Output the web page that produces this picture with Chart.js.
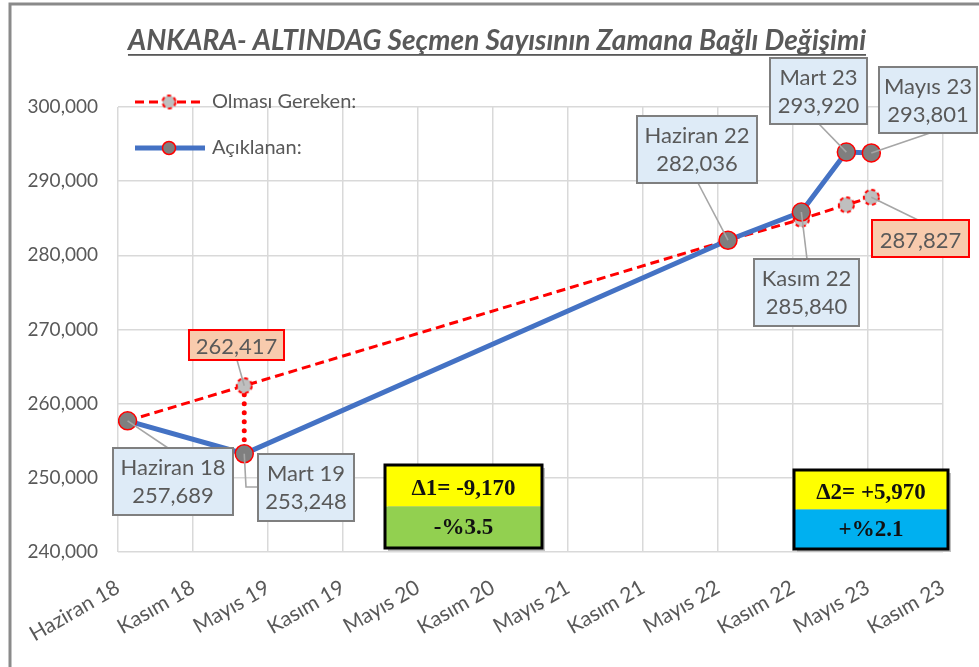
<!DOCTYPE html>
<html>
<head>
<meta charset="utf-8">
<script src="https://cdn.jsdelivr.net/npm/chart.js@4.4.1/dist/chart.umd.min.js"></script>
<style>
  html, body { margin: 0; padding: 0; background: #fff; }
  #wrap { width: 979px; height: 667px; }
</style>
</head>
<body>
<div id="wrap"><canvas id="chart" width="979" height="667"></canvas></div>
<script>
// x axis: one tick every 180 days, starting at axisStart
const axisStart = '2018-06-01';
const tickStepDays = 180;
const tickLabels = ['Haziran 18', 'Kasım 18', 'Mayıs 19', 'Kasım 19', 'Mayıs 20', 'Kasım 20',
  'Mayıs 21', 'Kasım 21', 'Mayıs 22', 'Kasım 22', 'Mayıs 23', 'Kasım 23'];

const pointNames = ['Haziran 18', 'Mart 19', 'Haziran 22', 'Kasım 22', 'Mart 23', 'Mayıs 23'];
const pointDates = ['2018-06-24', '2019-03-31', '2022-06-04', '2022-11-27', '2023-03-15', '2023-05-14'];
const announced = [257689, 253248, 282036, 285840, 293920, 293801];
const expected = [257689, 262417, 282036, 284870, 286810, 287827];

// dotted drop at Mart 19 between expected and announced
const gapDate = '2019-03-31';
const gapValues = [262417, 253248];

const deltaTitles = ['Δ1= -9,170', 'Δ2= +5,970'];
const deltaPercents = ['-%3.5', '+%2.1'];

const yMin = 240000, yMax = 300000, yStep = 10000;

const TITLE = 'ANKARA- ALTINDAG Seçmen Sayısının Zamana Bağlı Değişimi';
const GRAY_TEXT = '#595959';
const FONT = 'Lato';

function toDay(s) {
  return (Date.parse(s) - Date.parse(axisStart)) / 86400000;
}
function fmt(v) {
  return v.toLocaleString('en-US');
}

function dashedMarker(r) {
  const size = Math.ceil(r * 2 + 4);
  const c = document.createElement('canvas');
  c.width = size; c.height = size;
  const g = c.getContext('2d');
  g.beginPath();
  g.arc(size / 2, size / 2, r, 0, Math.PI * 2);
  g.fillStyle = '#bfbfbf';
  g.fill();
  g.setLineDash([4, 3]);
  g.strokeStyle = '#ff0000';
  g.lineWidth = 2;
  g.stroke();
  return c;
}

// callout layout: [x, y, w, h] of box and where the leader meets it
const callouts = [
  { series: 'announced', idx: 0, box: [113, 448, 120, 67], leader: [[168, 448]] },
  { series: 'announced', idx: 1, box: [258, 454, 96, 67], leader: [[246, 487], [258, 487]] },
  { series: 'expected', idx: 1, box: [189, 330, 95, 30], leader: [[237, 360]] },
  { series: 'announced', idx: 2, box: [637, 116, 120, 67], leader: [[698, 183]] },
  { series: 'announced', idx: 3, box: [754, 259, 105, 67], leader: [[807, 259]] },
  { series: 'announced', idx: 4, box: [770, 58, 97, 66], leader: [[819, 124]] },
  { series: 'announced', idx: 5, box: [879, 67, 98, 66], leader: [[930, 133]] },
  { series: 'expected', idx: 5, box: [872, 220, 97, 37], leader: [[918, 220]] }
];

const deltaBoxes = [
  { box: [385, 465, 157, 83], bottom: '#92d050' },
  { box: [794, 470, 154, 79], bottom: '#00b0f0' }
];

const overlay = {
  id: 'overlay',
  beforeDraw(chart) {
    const ctx = chart.ctx;
    ctx.save();
    // outer frame
    ctx.strokeStyle = '#8a8a8a';
    ctx.lineWidth = 3;
    ctx.strokeRect(10, 4, 1000, 700);
    // title
    ctx.font = `italic bold 28px ${FONT}`;
    ctx.fillStyle = GRAY_TEXT;
    ctx.textAlign = 'center';
    ctx.textBaseline = 'middle';
    ctx.fillText(TITLE, 497, 41);
    const w = ctx.measureText(TITLE).width;
    ctx.fillRect(497 - w / 2, 54, w, 1.8);
    ctx.restore();
  },
  afterDatasetsDraw(chart) {
    const { ctx, scales: { x, y } } = chart;
    ctx.save();

    // legend
    ctx.lineCap = 'butt';
    ctx.strokeStyle = '#ff0000';
    ctx.lineWidth = 3;
    ctx.setLineDash([9, 5]);
    ctx.beginPath(); ctx.moveTo(135, 102); ctx.lineTo(205, 102); ctx.stroke();
    ctx.setLineDash([]);
    const lm = dashedMarker(6.5);
    ctx.drawImage(lm, 169 - lm.width / 2, 102 - lm.height / 2);
    ctx.strokeStyle = '#4472c4';
    ctx.lineWidth = 5;
    ctx.beginPath(); ctx.moveTo(135, 148); ctx.lineTo(205, 148); ctx.stroke();
    ctx.beginPath(); ctx.arc(169, 148, 6.5, 0, Math.PI * 2);
    ctx.fillStyle = '#7f7f7f'; ctx.fill();
    ctx.strokeStyle = '#ff0000'; ctx.lineWidth = 1.5; ctx.stroke();
    ctx.font = `20px ${FONT}`;
    ctx.fillStyle = GRAY_TEXT;
    ctx.textAlign = 'left';
    ctx.textBaseline = 'middle';
    ctx.fillText(chart.data.datasets[1].label, 212, 102);
    ctx.fillText(chart.data.datasets[0].label, 212, 148);

    // callouts
    callouts.forEach(c => {
      const values = c.series === 'announced' ? announced : expected;
      const px = x.getPixelForValue(toDay(pointDates[c.idx]));
      const py = y.getPixelForValue(values[c.idx]);
      ctx.strokeStyle = '#a6a6a6';
      ctx.lineWidth = 1.6;
      ctx.beginPath();
      ctx.moveTo(px, py);
      c.leader.forEach(p => ctx.lineTo(p[0], p[1]));
      ctx.stroke();

      const [bx, by, bw, bh] = c.box;
      const orange = c.series === 'expected';
      ctx.fillStyle = orange ? '#f8cbad' : '#deebf7';
      ctx.fillRect(bx, by, bw, bh);
      ctx.strokeStyle = orange ? '#ff0000' : '#7f7f7f';
      ctx.lineWidth = 2;
      ctx.strokeRect(bx, by, bw, bh);

      ctx.fillStyle = GRAY_TEXT;
      ctx.font = `22px ${FONT}`;
      ctx.textAlign = 'center';
      ctx.textBaseline = 'middle';
      if (orange) {
        ctx.fillText(fmt(values[c.idx]), bx + bw / 2, by + bh / 2 + 2);
      } else {
        ctx.fillText(pointNames[c.idx], bx + bw / 2, by + 20);
        ctx.fillText(fmt(values[c.idx]), bx + bw / 2, by + 48);
      }
    });

    // delta boxes
    deltaBoxes.forEach((d, i) => {
      const [bx, by, bw, bh] = d.box;
      const half = bh / 2;
      ctx.fillStyle = '#bfbfbf';
      ctx.fillRect(bx + 3, by + 3, bw, bh);
      ctx.fillStyle = '#ffff00';
      ctx.fillRect(bx, by, bw, half);
      ctx.fillStyle = d.bottom;
      ctx.fillRect(bx, by + half, bw, half);
      ctx.strokeStyle = '#000';
      ctx.lineWidth = 3;
      ctx.strokeRect(bx, by, bw, bh);
      ctx.fillStyle = '#111';
      ctx.font = `bold 23px "Liberation Serif"`;
      ctx.textAlign = 'center';
      ctx.textBaseline = 'middle';
      ctx.fillText(deltaTitles[i], bx + bw / 2, by + half / 2 + 3);
      ctx.fillText(deltaPercents[i], bx + bw / 2, by + half + half / 2 + 1);
    });
    ctx.restore();
  }
};

Chart.defaults.font.family = FONT;
Chart.defaults.color = GRAY_TEXT;

new Chart(document.getElementById('chart'), {
  type: 'line',
  data: {
    datasets: [
      {
        label: 'Açıklanan:',
        data: pointDates.map((d, i) => ({ x: toDay(d), y: announced[i] })),
        borderColor: '#4472c4',
        borderWidth: 5,
        pointRadius: 9,
        pointHoverRadius: 9,
        pointBackgroundColor: '#7f7f7f',
        pointBorderColor: '#ff0000',
        pointBorderWidth: 1.5,
        tension: 0
      },
      {
        label: 'Olması Gereken:',
        data: pointDates.map((d, i) => ({ x: toDay(d), y: expected[i] })),
        borderColor: '#ff0000',
        borderWidth: 3,
        borderDash: [9, 5],
        pointStyle: dashedMarker(7.5),
        pointRadius: 8,
        tension: 0
      },
      {
        label: 'fark',
        data: gapValues.map(v => ({ x: toDay(gapDate), y: v })),
        borderColor: '#ff0000',
        borderWidth: 5,
        borderDash: [0, 9],
        borderCapStyle: 'round',
        pointRadius: 0
      }
    ]
  },
  options: {
    responsive: false,
    animation: false,
    events: [],
    layout: { padding: { top: 107, right: 36, left: 0, bottom: 0 } },
    plugins: { legend: { display: false }, tooltip: { enabled: false } },
    scales: {
      x: {
        type: 'linear',
        min: 0,
        max: tickStepDays * (tickLabels.length - 1),
        afterFit: s => { s.height = 115; },
        grid: { color: '#d9d9d9', lineWidth: 1.5, drawTicks: false },
        border: { display: false },
        ticks: {
          stepSize: tickStepDays,
          autoSkip: false,
          maxRotation: 30,
          minRotation: 30,
          padding: 23,
          font: { size: 21 },
          color: GRAY_TEXT,
          callback: v => tickLabels[Math.round(v / tickStepDays)]
        }
      },
      y: {
        min: yMin,
        max: yMax,
        afterFit: s => { s.width = 118; },
        grid: { color: '#d9d9d9', lineWidth: 1.5, drawTicks: false },
        border: { display: false },
        ticks: {
          stepSize: yStep,
          padding: 20,
          font: { size: 19 },
          color: GRAY_TEXT,
          callback: v => fmt(v)
        }
      }
    }
  },
  plugins: [overlay]
});
</script>
</body>
</html>
